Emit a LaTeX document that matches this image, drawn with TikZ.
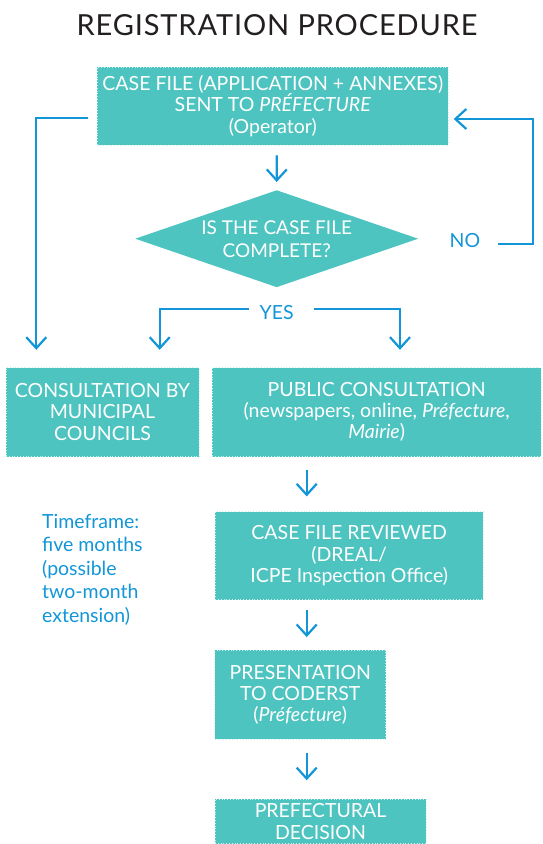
\documentclass[tikz,border=0pt]{standalone}
\usepackage{fontspec}
\setmainfont{Lato}
\usepackage{xcolor}
\usepackage{tikz}
\usetikzlibrary{positioning, arrows.meta, calc, shapes.geometric}

\definecolor{boxteal}{RGB}{78,196,193}
\definecolor{boxedge}{RGB}{200,240,238}
\definecolor{flowblue}{RGB}{18,150,216}
\definecolor{titlegray}{RGB}{35,31,32}

\begin{document}
\begin{tikzpicture}[
    x=1pt, y=-1pt,
    stepbox/.style={rectangle, fill=boxteal, draw=boxedge, dotted, line width=0.8pt, text=white, align=center, inner sep=0pt, font=\fontsize{19.5}{21.3}\selectfont},
    checknode/.style={diamond, fill=boxteal, text=white, align=center, inner sep=0pt, aspect=2.9, font=\fontsize{19}{23}\selectfont},
    flow/.style={draw=flowblue, line width=2.2pt, -{Straight Barb[length=11pt, width=20pt]}},
    flowlabel/.style={text=flowblue, inner sep=0pt, font=\fontsize{19.5}{23.5}\selectfont},
]
\useasboundingbox (0,0) rectangle (543,844);
\clip (0,0) rectangle (543,844);
\coordinate (axis) at (306.7,0);

\node[text=titlegray, font=\fontsize{29}{30}\selectfont\addfontfeature{LetterSpace=3}](title) at (277,25){REGISTRATION PROCEDURE};

% boxes
\node[stepbox, minimum width=351pt, minimum height=78pt](casefile) at (272.8,106){CASE FILE (APPLICATION + ANNEXES)\\SENT TO \textit{PRÉFECTURE}\\(Operator)};
\node[checknode, minimum width=283pt, minimum height=97pt](check) at (276.7,238.7){IS THE CASE FILE\\COMPLETE?};
\node[flowlabel](no)[right = 31pt of check, yshift=-2pt]{NO};
\node[flowlabel](yes)[below = 18pt of check]{YES};
\node[stepbox, minimum width=193pt, minimum height=89pt](cmc) at (102.5,412){CONSULTATION BY\\MUNICIPAL\\COUNCILS};
\node[stepbox, minimum width=329pt, minimum height=89pt](pc) at (376.7,412){PUBLIC CONSULTATION\\(newspapers, online, \textit{Préfecture},\\\textit{Mairie})};
\node[stepbox, minimum width=268pt, minimum height=88pt](cfr) at (349.2,555.8){CASE FILE REVIEWED\\(DREAL/\\ICPE Inspection Office)};
\node[stepbox, minimum width=171pt, minimum height=89pt](ptc) at (300.3,694.7){PRESENTATION\\TO CODERST\\(\textit{Préfecture})};
\node[stepbox, minimum width=211pt, minimum height=44.5pt](pd) at (320.5,821.5){PREFECTURAL\\DECISION};
\node[flowlabel, align=left, anchor=north west](timeframe) at (42,514){Timeframe:\\five months\\(possible\\two-month\\extension)};

% connectors
\draw[flow] ([xshift=-9pt, yshift=-11.7pt]casefile.west) -| ([xshift=30.7pt, yshift=17.3pt]cmc.north west);
\draw[flow] ([xshift=4pt, yshift=-10pt]casefile.south) -- ([yshift=8pt]check.north);
\draw[flow] ([xshift=18pt, yshift=-3.5pt]no.east) -- ++(35,0) |- ([xshift=5pt, yshift=-13pt]casefile.east);
\draw[flow] ([xshift=-10.6pt, yshift=3.4pt]yes.west) -| ([xshift=-39.7pt, yshift=17.3pt]cmc.north east);
\draw[flow] ([xshift=20pt, yshift=3.4pt]yes.east) -| ([xshift=23.3pt, yshift=17.3pt]pc.north);
\draw[flow] ($(pc.south -| axis)+(0,13.5)$) -- ($(cfr.north -| axis)+(0,-15)$);
\draw[flow] ($(cfr.south -| axis)+(0,10)$) -- ($(ptc.north -| axis)+(0,-12.7)$);
\draw[flow] ($(ptc.south -| axis)+(0,13.7)$) -- ($(pd.north -| axis)+(0,-18.6)$);
\end{tikzpicture}
\end{document}
